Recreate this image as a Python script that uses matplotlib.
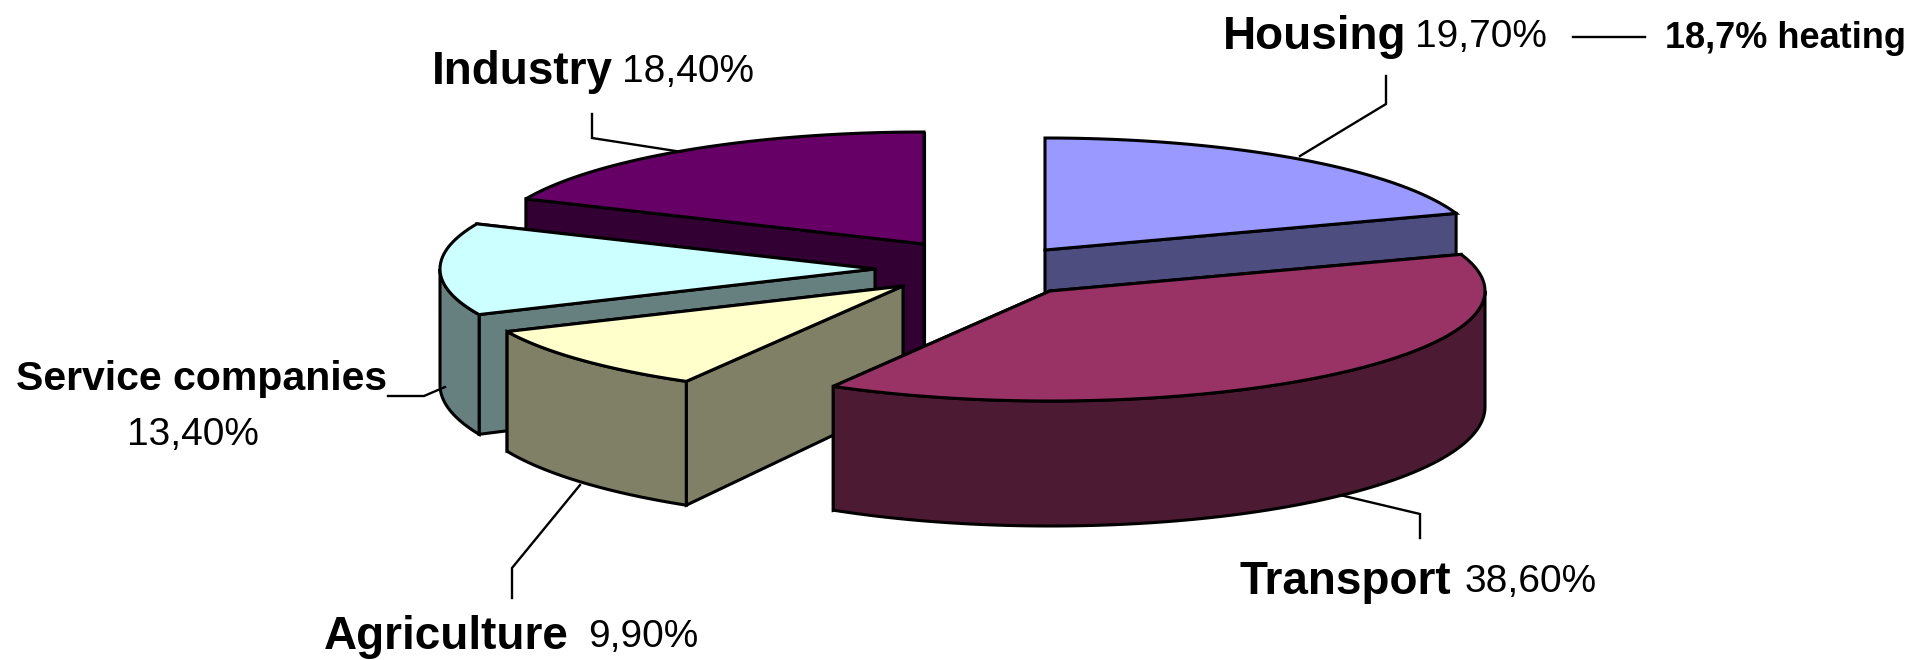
import numpy as np
import matplotlib
matplotlib.use("Agg")
import matplotlib.pyplot as plt
from matplotlib.patches import Polygon

sectors = ["Housing", "Transport", "Agriculture", "Service companies", "Industry"]
shares = [19.7, 38.6, 9.9, 13.4, 18.4]
share_labels = ["19,70%", "38,60%", "9,90%", "13,40%", "18,40%"]
heating_label = "18,7% heating"

top_colors = ["#9999FF", "#993366", "#FFFFCC", "#CCFFFF", "#660066"]
side_colors = ["#4D4D80", "#4D1A33", "#808066", "#668080", "#330033"]

# where each exploded slice has its tip, in pixels
tips = [(1045, 250), (1050, 291), (903, 286), (875, 269), (924, 244)]
draw_order = [4, 3, 2, 0, 1]

rx = 435
ry_back = 112
ry_front = 110
ry_lower = 119
depth = 116
bold_font = ["Liberation Sans Narrow", "Liberation Sans"]


def rim(tip, angle, ry_near=ry_front, drop=0):
    # angle in radians, clockwise from the top of the pie
    ry = ry_back if np.cos(angle) > 0 else ry_near
    return tip[0] + rx * np.sin(angle), tip[1] + drop - ry * np.cos(angle)


def rim_angles(a0, a1):
    return np.linspace(a0, a1, max(int((a1 - a0) * 60), 2))


def draw_slice(ax, tip, a0, a1, top, side):
    lw = 2.2
    faces = []
    for a in (a0, a1):
        x, y = rim(tip, a)
        x2, y2 = rim(tip, a, ry_lower, depth)
        face = [tip, (x, y), (x2, y2), (tip[0], tip[1] + depth)]
        faces.append((y, face))
    faces.sort(key=lambda f: f[0])
    for y, face in faces:
        ax.add_patch(Polygon(face, closed=True, fc=side, ec="black", lw=lw, joinstyle="miter"))
    # front part of the outer wall
    lo, hi = max(a0, np.pi / 2), min(a1, 3 * np.pi / 2)
    if hi > lo:
        upper = [rim(tip, a) for a in rim_angles(lo, hi)]
        lower = [rim(tip, a, ry_lower, depth) for a in rim_angles(lo, hi)][::-1]
        ax.add_patch(Polygon(upper + lower, closed=True, fc=side, ec="black", lw=lw))
    outline = [tip] + [rim(tip, a) for a in rim_angles(a0, a1)]
    ax.add_patch(Polygon(outline, closed=True, fc=top, ec="black", lw=lw))


fig = plt.figure(figsize=(19.27, 6.6), dpi=100)
ax = fig.add_axes([0, 0, 1, 1])
ax.set_xlim(0, 1927)
ax.set_ylim(660, 0)
ax.axis("off")

edges = np.cumsum([0] + shares) / 100 * 2 * np.pi
for i in draw_order:
    draw_slice(ax, tips[i], edges[i], edges[i + 1], top_colors[i], side_colors[i])

# leader lines
leaders = [
    [(1386, 76), (1386, 104), (1300, 156)],
    [(1420, 538), (1420, 514), (1340, 495)],
    [(512, 598), (512, 568), (580, 485)],
    [(388, 396), (424, 396), (445, 387)],
    [(592, 114), (592, 138), (682, 152)],
    [(1573, 37), (1645, 37)],
]
for pts in leaders:
    xs, ys = zip(*pts)
    ax.plot(xs, ys, color="black", lw=1.7, solid_joinstyle="miter")

# labels: name in bold, then the share
name_size = 33
share_size = 28
ax.text(1223, 37, sectors[0], family=bold_font, weight="bold", size=name_size, va="center")
ax.text(1415, 37, share_labels[0], family=bold_font, size=share_size, va="center")
ax.text(1665, 38, heating_label, family=bold_font, weight="bold", size=26, va="center")
ax.text(1240, 582, sectors[1], family=bold_font, weight="bold", size=name_size, va="center")
ax.text(1465, 582, share_labels[1], family=bold_font, size=share_size, va="center")
ax.text(324, 637, sectors[2], family=bold_font, weight="bold", size=name_size, va="center")
ax.text(588, 637, share_labels[2], family=bold_font, size=share_size, va="center")
ax.text(16, 379, sectors[3], family=bold_font, weight="bold", size=29.5, va="center")
ax.text(127, 435, share_labels[3], family=bold_font, size=share_size, va="center")
ax.text(432, 72, sectors[4], family=bold_font, weight="bold", size=name_size, va="center")
ax.text(622, 72, share_labels[4], family=bold_font, size=share_size, va="center")

fig.savefig("out.png", dpi=100)
